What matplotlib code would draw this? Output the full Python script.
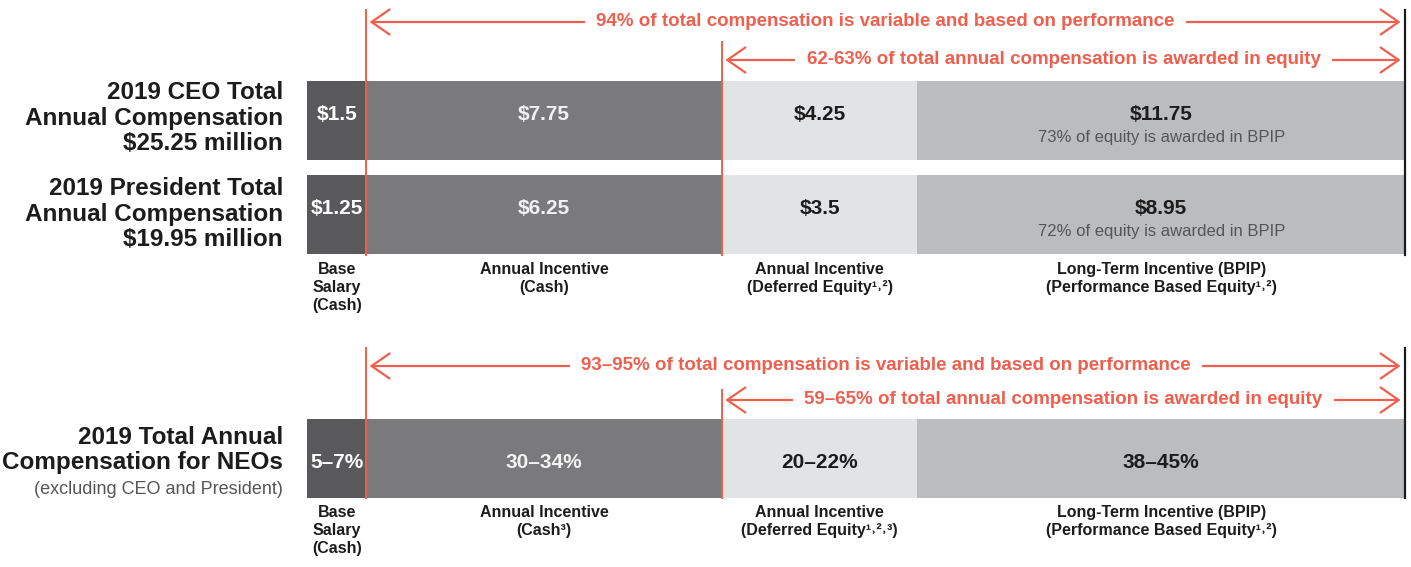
"""
Executive compensation mix infographic (CEO / President / NEOs).
"""
import matplotlib
matplotlib.use("Agg")
import matplotlib.pyplot as plt
import numpy as np

RED     = "#ef5f4e"
INK     = "#1c1c1c"
SUBTEXT = "#555558"
SEG_COLORS = ["#59595b", "#7a7a7c", "#e2e3e5", "#bbbcbe"]
VAL_COLORS = ["white", "#f2f2f2", INK, INK]

plt.rcParams["font.family"] = ["Liberation Sans", "DejaVu Sans"]

# ── data ────────────────────────────────────────────────────
segment_share = [5.4, 32.4, 17.8, 44.4]     # share of the bar drawn for each component
components = [
    "Base\nSalary\n(Cash)",
    "Annual Incentive\n(Cash)",
    "Annual Incentive\n(Deferred Equity¹˒²)",
    "Long-Term Incentive (BPIP)\n(Performance Based Equity¹˒²)",
]
components_neo = [
    "Base\nSalary\n(Cash)",
    "Annual Incentive\n(Cash³)",
    "Annual Incentive\n(Deferred Equity¹˒²˒³)",
    "Long-Term Incentive (BPIP)\n(Performance Based Equity¹˒²)",
]
row_titles = [
    "2019 CEO Total\nAnnual Compensation\n$25.25 million",
    "2019 President Total\nAnnual Compensation\n$19.95 million",
    "2019 Total Annual\nCompensation for NEOs",
]
ceo_values       = ["$1.5", "$7.75", "$4.25", "$11.75"]
president_values = ["$1.25", "$6.25", "$3.5", "$8.95"]
neo_values       = ["5–7%", "30–34%", "20–22%", "38–45%"]
bpip_notes       = ["73% of equity is awarded in BPIP", "72% of equity is awarded in BPIP", ""]
variable_notes   = ["94% of total compensation is variable and based on performance",
                    "93–95% of total compensation is variable and based on performance"]
equity_notes     = ["62-63% of total annual compensation is awarded in equity",
                    "59–65% of total annual compensation is awarded in equity"]

# ── layout (pixel-like y, share-based x) ───────────────────
W, H = 1411, 567
BAR_L, BAR_R = 307, 1405
scale = (BAR_R - BAR_L) / 100.0
def px(x):
    return (x - BAR_L) / scale

fig = plt.figure(figsize=(W / 100, H / 100), dpi=100)
ax = fig.add_axes([0, 0, 1, 1])
ax.set_xlim(px(0), px(W))
ax.set_ylim(H, 0)
ax.axis("off")

edges = np.concatenate([[0], np.cumsum(segment_share)])
edges = edges / edges[-1] * 100
centers = (edges[:-1] + edges[1:]) / 2

row_y = [120.5, 214.5, 458]
bar_h = 79
row_vals = [ceo_values, president_values, neo_values]

for i, (y, vals) in enumerate(zip(row_y, row_vals)):
    ax.barh(y, np.diff(edges), left=edges[:-1], height=bar_h,
            color=SEG_COLORS, edgecolor="none", zorder=2)
    off = -6 if bpip_notes[i] else 4
    for j, (cx, v) in enumerate(zip(centers, vals)):
        ax.text(cx, y + off, v, ha="center", va="center", fontsize=15,
                fontweight="bold", color=VAL_COLORS[j], zorder=4)
    if bpip_notes[i]:
        ax.text(centers[3], y + 17, bpip_notes[i], ha="center", va="center",
                fontsize=12, color=SUBTEXT, zorder=4)

# row titles on the left
title_y = [118, 214, 450]
for t, y in zip(row_titles, title_y):
    ax.text(px(283), y, t, ha="right", va="center", fontsize=17.5,
            fontweight="bold", color=INK, linespacing=1.12)
ax.text(px(283), 489, "(excluding CEO and President)", ha="right", va="center",
        fontsize=13, color=SUBTEXT)

# component labels under bars
for labels, y0 in [(components, 262), (components_neo, 505)]:
    for cx, lab in zip(centers, labels):
        ax.text(cx, y0, lab, ha="center", va="top", fontsize=11.5,
                fontweight="bold", color=INK, linespacing=1.25)

# red span arrows + guide lines
sections = [
    dict(v_top=10, e_top=42, bottom=255, arrow1=22, arrow2=60, k=0),
    dict(v_top=348, e_top=390, bottom=498, arrow1=366, arrow2=400, k=1),
]
for s in sections:
    ax.plot([edges[1], edges[1]], [s["v_top"], s["bottom"]], color=RED, lw=1.4, zorder=5)
    ax.plot([edges[2], edges[2]], [s["e_top"], s["bottom"]], color=RED, lw=1.4, zorder=5)
    ax.plot([100, 100], [s["v_top"], s["bottom"]], color=INK, lw=1.6, zorder=5)

    for x0, y, note in [(edges[1], s["arrow1"], variable_notes[s["k"]]),
                        (edges[2], s["arrow2"], equity_notes[s["k"]])]:
        ax.annotate("", xy=(99.6, y), xytext=(x0 + 0.3, y),
                    arrowprops=dict(arrowstyle="<->,head_length=1.3,head_width=0.9",
                                    color=RED, lw=1.6, shrinkA=0, shrinkB=0), zorder=1)
        ax.text((x0 + 100) / 2, y, note, ha="center", va="center", fontsize=13.5,
                fontweight="bold", color=RED, zorder=1.5,
                bbox=dict(boxstyle="square,pad=0.6", facecolor="white", edgecolor="none"))

fig.savefig("out.png", dpi=100)
